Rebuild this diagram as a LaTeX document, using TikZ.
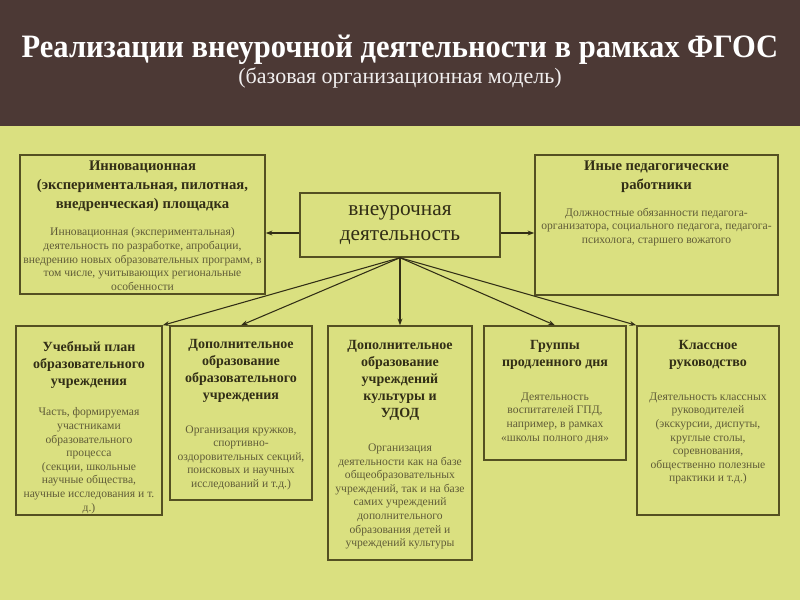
\documentclass[tikz,border=0pt]{standalone}
\usepackage{fontspec}
\setmainfont{Liberation Serif}
\usetikzlibrary{positioning,calc,fit,arrows.meta}

\definecolor{bgGreen}{RGB}{218,224,128}
\definecolor{headBrown}{RGB}{76,57,53}
\definecolor{frameOlive}{RGB}{84,80,34}
\definecolor{inkDark}{RGB}{50,46,22}
\definecolor{inkNote}{RGB}{96,92,56}

\begin{document}
\begin{tikzpicture}[x=0.75pt, y=-0.75pt,
  box/.style={draw=frameOlive, line width=1.1pt, inner sep=0pt},
  ttl/.style={font=\bfseries\fontsize{11}{14}\selectfont, text=inkDark, align=center, inner sep=0pt},
  btl/.style={font=\bfseries\fontsize{10.5}{12.8}\selectfont, text=inkDark, align=center, inner sep=0pt},
  txt/.style={font=\fontsize{8.7}{10.2}\selectfont, text=inkNote, align=center, inner sep=0pt},
  arr/.style={-{Stealth[length=5pt,width=3.6pt]}, draw=inkDark, line width=0.8pt}]

\fill[bgGreen] (0,0) rectangle (800,600);
\fill[headBrown] (0,0) rectangle (800,126);

\node (title) at (400,50) [font=\bfseries\fontsize{24.5}{28}\selectfont, text=white] {\scalebox{0.935}[1]{Реализации внеурочной деятельности в рамках ФГОС}};
\node (subtitle) at (400,78) [font=\fontsize{16.5}{19}\selectfont, text=white!92!headBrown] {(базовая организационная модель)};

\node (vd) [box, fit={(300,193) (500,257)}] {};
\node (vdT) at (vd.center) [font=\fontsize{16}{19}\selectfont, text=inkDark, align=center] {внеурочная\\деятельность};

\node (innov) [box, fit={(20,155) (265,294)}] {};
\node (innovT) [ttl, below=5pt of innov.north] {Инновационная\\(экспериментальная, пилотная,\\внедренческая) площадка};
\node (innovD) [txt, below=12pt of innovT] {Инновационная (экспериментальная)\\деятельность по разработке, апробации,\\внедрению новых образовательных программ, в\\том числе, учитывающих региональные\\особенности};

\node (staff) [box, fit={(535,155) (778,295)}] {};
\node (staffT) [ttl, below=5pt of staff.north] {Иные педагогические\\работники};
\node (staffD) [txt, below=11pt of staffT] {Должностные обязанности педагога-\\организатора, социального педагога, педагога-\\психолога, старшего вожатого};

\node (plan) [box, fit={(16,326) (162,515)}] {};
\node (planT) [btl, below=12pt of plan.north] {Учебный план\\образовательного\\учреждения};
\node (planD) [txt, below=14pt of planT] {Часть, формируемая\\участниками\\образовательного\\процесса\\(секции, школьные\\научные общества,\\научные исследования и т.\\д.)};

\node (dopOU) [box, fit={(170,326) (312,500)}] {};
\node (dopOUT) [btl, below=10pt of dopOU.north] {Дополнительное\\образование\\образовательного\\учреждения};
\node (dopOUD) [txt, below=17pt of dopOUT] {Организация кружков,\\спортивно-\\оздоровительных секций,\\поисковых и научных\\исследований и т.д.)};

\node (udod) [box, fit={(328,326) (472,560)}] {};
\node (udodT) [btl, below=11pt of udod.north] {Дополнительное\\образование\\учреждений\\культуры и\\УДОД};
\node (udodD) [txt, below=17pt of udodT] {Организация\\деятельности как на базе\\общеобразовательных\\учреждений, так и на базе\\самих учреждений\\дополнительного\\образования детей и\\учреждений культуры};

\node (gpd) [box, fit={(484,326) (626,460)}] {};
\node (gpdT) [btl, below=11pt of gpd.north] {Группы\\продленного дня};
\node (gpdD) [txt, below=17pt of gpdT] {Деятельность\\воспитателей ГПД,\\например, в рамках\\«школы полного дня»};

\node (klass) [box, fit={(637,326) (779,515)}] {};
\node (klassT) [btl, below=11pt of klass.north] {Классное\\руководство};
\node (klassD) [txt, below=17pt of klassT] {Деятельность классных\\руководителей\\(экскурсии, диспуты,\\круглые столы,\\соревнования,\\общественно полезные\\практики и т.д.)};

\coordinate (vdL) at ($(vd.west)+(0,8)$);
\coordinate (vdR) at ($(vd.east)+(0,8)$);
\draw[arr] (vdL) -- (vdL -| innov.east);
\draw[arr] (vdR) -- (vdR -| staff.west);
\draw[arr] (vd.south) -- (plan.north east);
\draw[arr] (vd.south) -- (dopOU.north);
\draw[arr] (vd.south) -- (udod.north);
\draw[arr] (vd.south) -- (gpd.north);
\draw[arr] (vd.south) -- (klass.north west);
\end{tikzpicture}
\end{document}
